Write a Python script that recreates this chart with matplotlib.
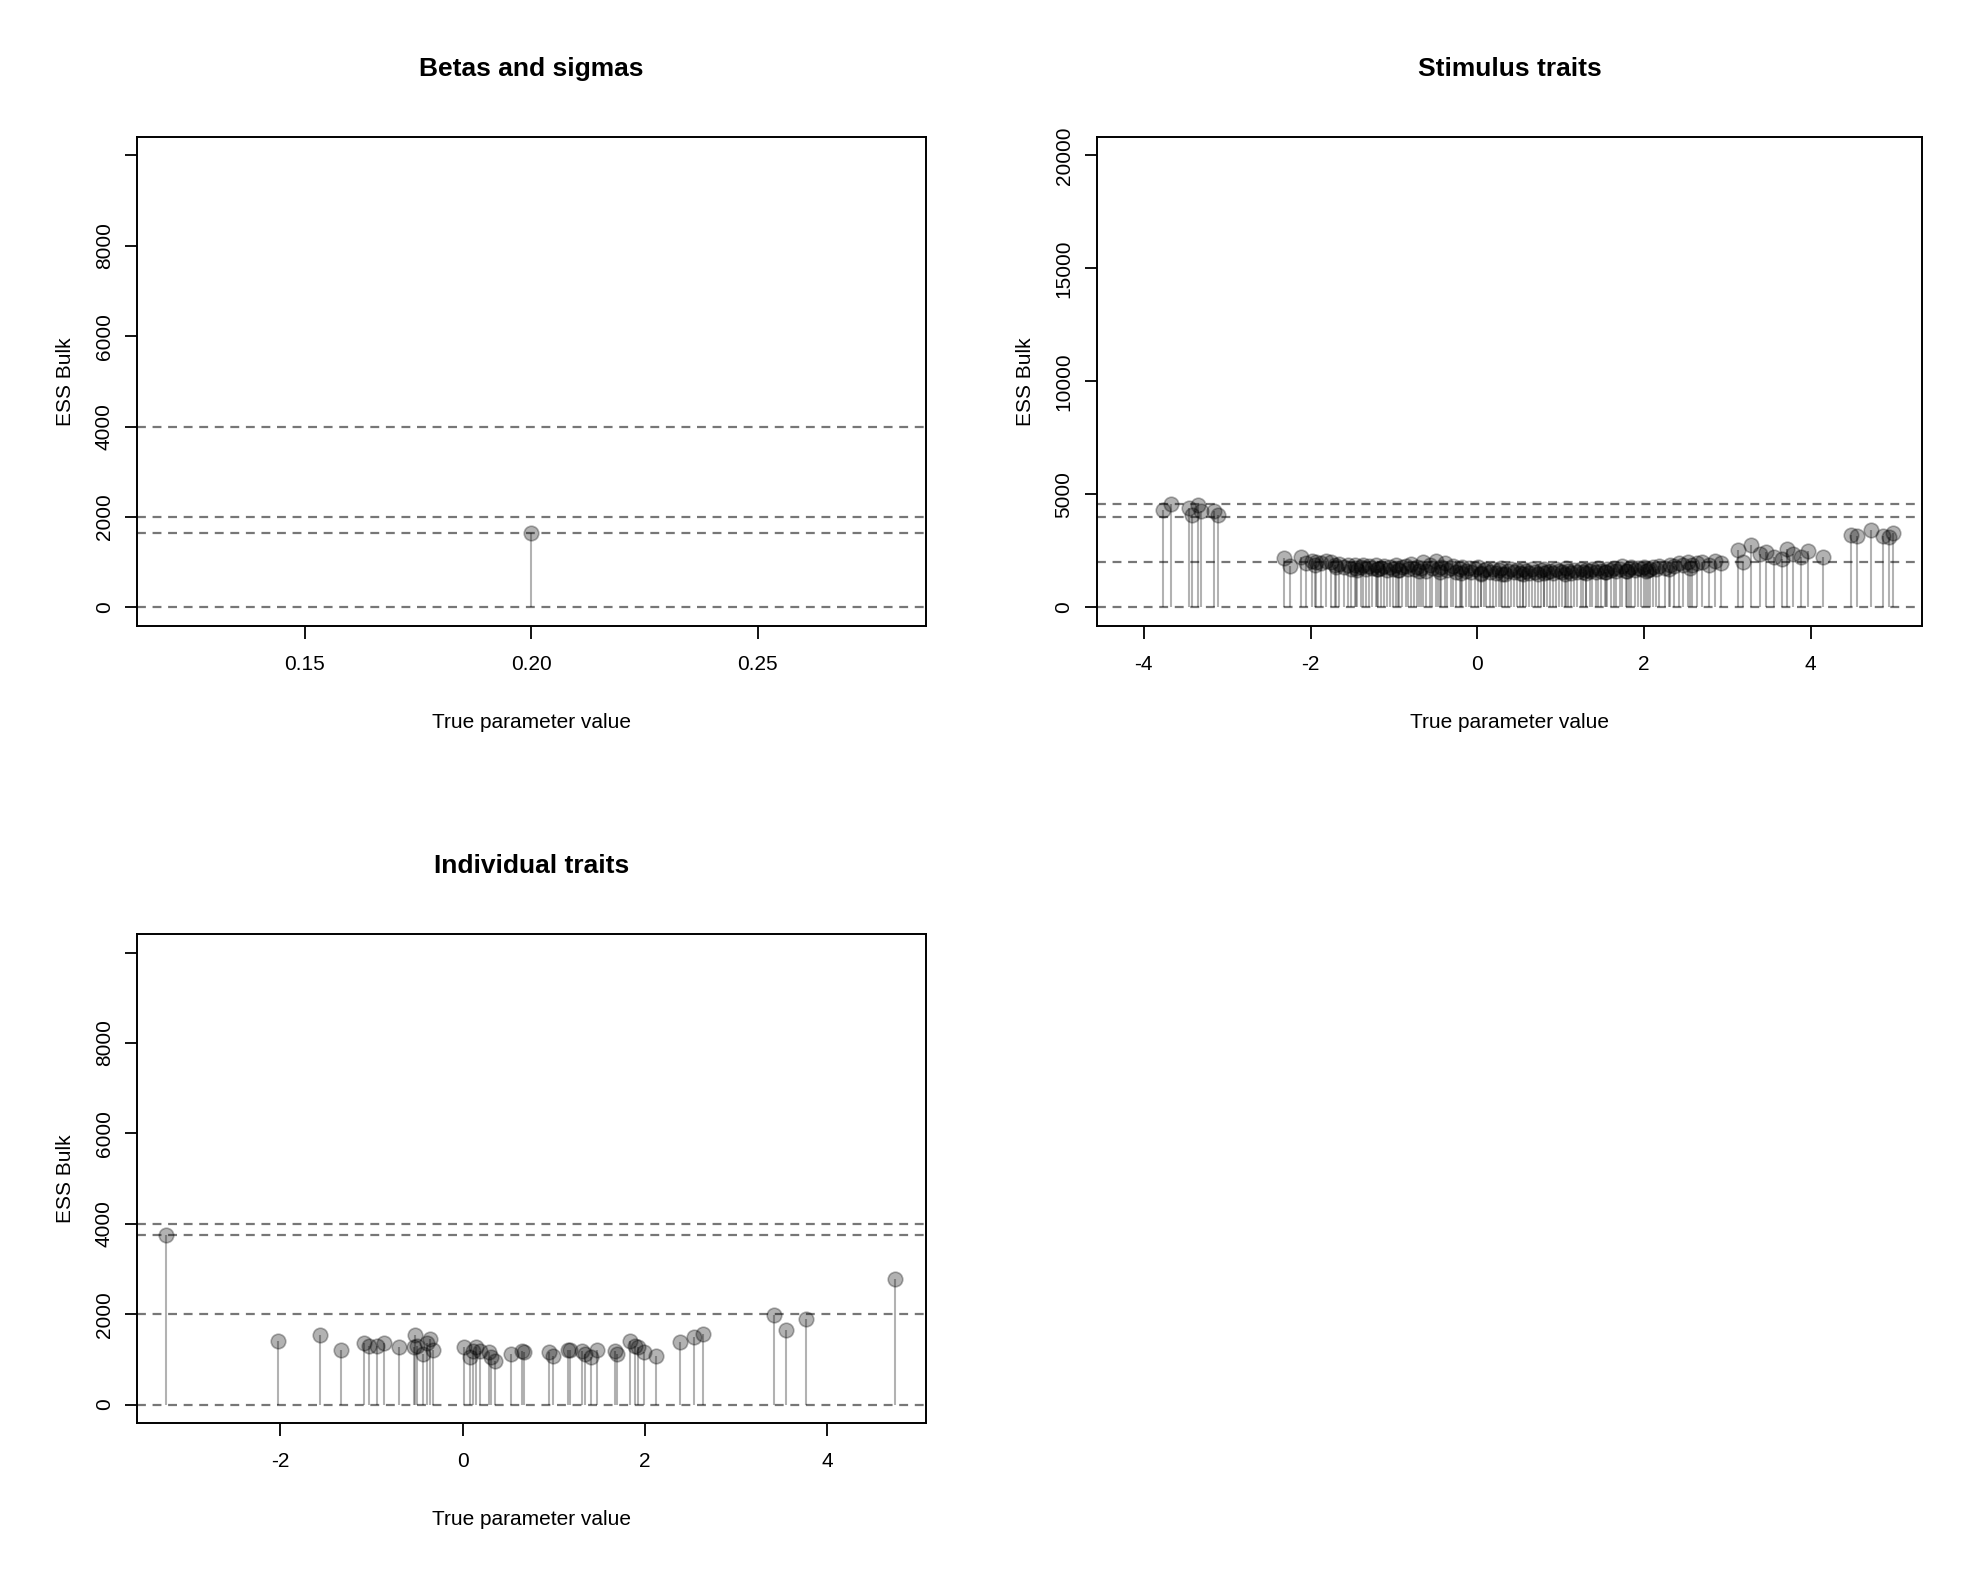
import numpy as np
import matplotlib
matplotlib.use("Agg")
from matplotlib import pyplot as plt

plt.rcParams['font.family'] = ['Liberation Sans', 'DejaVu Sans']

# Betas and sigmas
beta_x = [0.20]
beta_y = [1650]

# Stimulus traits
stim_x = [-3.77, -3.67, -3.46, -3.42, -3.35, -3.31, -3.16, -3.11,
          -2.32, -2.25, -2.12, -2.05, -1.98, -1.93, -1.88, -1.82, -1.76, -1.71,
          -1.66, -1.60, -1.55, -1.51, -1.47, -1.44, -1.40, -1.37, -1.33, -1.30,
          -1.26, -1.22, -1.19, -1.15, -1.12, -1.08, -1.05, -1.01, -0.97, -0.94,
          -0.90, -0.86, -0.83, -0.79, -0.76, -0.72, -0.68, -0.65, -0.61, -0.57,
          -0.54, -0.50, -0.47, -0.43, -0.39, -0.36, -0.32, -0.29, -0.25, -0.21,
          -0.18, -0.14, -0.10, -0.07, -0.03, 0.01, 0.04, 0.08, 0.11, 0.15,
          0.19, 0.22, 0.26, 0.29, 0.33, 0.37, 0.40, 0.44, 0.48, 0.51, 0.55,
          0.58, 0.62, 0.66, 0.69, 0.73, 0.77, 0.80, 0.84, 0.87, 0.91, 0.95,
          0.98, 1.02, 1.06, 1.09, 1.13, 1.16, 1.20, 1.24, 1.27, 1.31, 1.35,
          1.38, 1.42, 1.45, 1.49, 1.53, 1.56, 1.60, 1.64, 1.67, 1.71, 1.74,
          1.78, 1.82, 1.85, 1.89, 1.93, 1.96, 2.00, 2.03, 2.07, 2.11, 2.14,
          2.18, 2.25, 2.31, 2.36, 2.42, 2.47, 2.53, 2.58, 2.64, 2.70, 2.78,
          2.85, 2.92,
          -1.95, -1.70, -1.45, -1.20, -0.95, -0.70, -0.45, -0.20, 0.05, 0.30,
          0.55, 0.80, 1.05, 1.30, 1.55, 1.80, 2.05, 2.30, 2.55,
          3.13, 3.19, 3.28, 3.39, 3.46, 3.56, 3.66, 3.72, 3.79, 3.89, 3.97, 4.15,
          4.48, 4.56, 4.72, 4.87, 4.94, 4.99]
stim_y = [4300, 4556, 4406, 4105, 4511, 4256, 4256, 4105,
          2195, 1850, 2226, 1950, 2060, 2020, 1980, 2050, 1990, 1870,
          1930, 1800, 1900, 1720, 1860, 1650, 1780, 1900, 1700, 1820,
          1760, 1880, 1690, 1740, 1850, 1660, 1800, 1720, 1890, 1640,
          1770, 1830, 1700, 1940, 1680, 1810, 1750, 2010, 1620, 1870,
          1730, 2060, 1690, 1790, 1980, 1640, 1760, 1850, 1580, 1700,
          1810, 1620, 1740, 1560, 1680, 1780, 1520, 1650, 1720, 1590,
          1700, 1540, 1640, 1760, 1500, 1610, 1690, 1560, 1650, 1520, 1720,
          1600, 1540, 1680, 1580, 1500, 1640, 1700, 1560, 1620, 1530, 1690,
          1600, 1560, 1740, 1620, 1520, 1660, 1590, 1700, 1560, 1640, 1610,
          1690, 1550, 1730, 1620, 1580, 1700, 1650, 1760, 1600, 1680, 1830,
          1620, 1700, 1780, 1650, 1740, 1690, 1800, 1620, 1720, 1770, 1680,
          1850, 1750, 1900, 1820, 1960, 1870, 2010, 1880, 1950, 1990, 1860,
          2040, 1980,
          1900, 1800, 1750, 1700, 1640, 1600, 1580, 1520, 1480, 1500,
          1470, 1520, 1500, 1540, 1580, 1620, 1660, 1700, 1760,
          2526, 2000, 2752, 2376, 2451, 2226, 2150, 2601, 2376, 2226, 2496, 2226,
          3203, 3158, 3429, 3158, 3128, 3278]

# Individual traits
ind_x = [-3.25, -2.03, -1.56, -1.34, -1.08, -1.03, -0.94, -0.86, -0.70, -0.53,
         -0.52, -0.50, -0.43, -0.39, -0.36, -0.32, 0.02, 0.08, 0.11, 0.15,
         0.19, 0.29, 0.31, 0.36, 0.53, 0.65, 0.67, 0.95, 0.99, 1.16, 1.18,
         1.31, 1.34, 1.41, 1.48, 1.67, 1.69, 1.84, 1.89, 1.92, 1.99, 2.12,
         2.39, 2.54, 2.64, 3.42, 3.55, 3.77, 4.75]
ind_y = [3746, 1403, 1545, 1201, 1358, 1306, 1306, 1366, 1276, 1269,
         1537, 1306, 1119, 1366, 1455, 1201, 1269, 1045, 1179, 1284,
         1194, 1157, 1045, 970, 1119, 1194, 1157, 1157, 1082, 1209, 1209,
         1194, 1119, 1060, 1209, 1194, 1119, 1403, 1306, 1269, 1157, 1082,
         1381, 1493, 1567, 1978, 1642, 1903, 2776]

W, H = 1548, 1238
fig = plt.figure(figsize=(19.68, 15.74), dpi=100)


def panel(box, x, y, title, xlim, xticks, xlabels, ylim, yticks, ylabels):
    l, r, t, b = box
    ax = fig.add_axes([l / W, 1 - b / H, (r - l) / W, (b - t) / H])
    x = np.array(x)
    y = np.array(y)
    for h in [0, 2000, 4000, y.max()]:
        ax.axhline(h, color='#777777', ls=(0, (4, 3)), lw=1.6, zorder=1)
    ax.vlines(x, 0, y, color=(0, 0, 0, 0.3), lw=1.5, zorder=2)
    ax.scatter(x, y, s=110, facecolor=(0, 0, 0, 0.3), edgecolor=(0, 0, 0, 0.3),
               lw=1.2, zorder=3)
    ax.set_xlim(xlim)
    ax.set_ylim(ylim)
    ax.set_xticks(xticks)
    ax.set_xticklabels(xlabels)
    ax.set_yticks(yticks)
    ax.set_yticklabels(ylabels, rotation=90, va='center')
    ax.tick_params(direction='out', length=9, width=1.3, labelsize=15, pad=8)
    ax.tick_params(axis='x', pad=12)
    for s in ax.spines.values():
        s.set_linewidth(1.4)
    ax.set_title(title, fontsize=19, fontweight='bold', pad=44)
    ax.set_xlabel("True parameter value", fontsize=15, labelpad=28)
    ax.set_ylabel("ESS Bulk", fontsize=15, labelpad=14)
    return ax


yt = [0, 2000, 4000, 6000, 8000, 10000]
yl = ["0", "2000", "4000", "6000", "8000", ""]
panel((108, 728, 108, 492), beta_x, beta_y, "Betas and sigmas",
      (0.113, 0.287), [0.15, 0.20, 0.25], ["0.15", "0.20", "0.25"],
      (-400, 10400), yt, yl)
panel((863, 1512, 108, 492), stim_x, stim_y, "Stimulus traits",
      (-4.56, 5.34), [-4, -2, 0, 2, 4], ["-4", "-2", "0", "2", "4"],
      (-800, 20800), [0, 5000, 10000, 15000, 20000],
      ["0", "5000", "10000", "15000", "20000"])
panel((108, 728, 735, 1119), ind_x, ind_y, "Individual traits",
      (-3.57, 5.08), [-2, 0, 2, 4], ["-2", "0", "2", "4"],
      (-400, 10400), yt, yl)

fig.savefig("out.png", dpi=100)
